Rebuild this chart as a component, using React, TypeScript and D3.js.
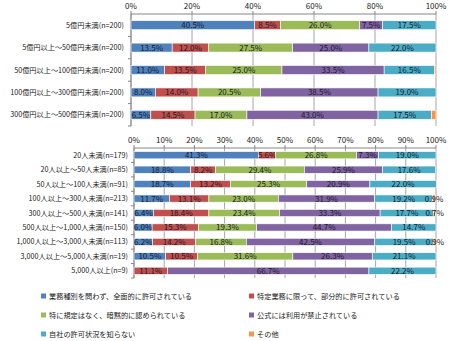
import React from "react";
import * as d3 from "d3";

const seriesNames = [
  "業務種別を問わず、全面的に許可されている",
  "特定業務に限って、部分的に許可されている",
  "特に規定はなく、暗黙的に認められている",
  "公式には利用が禁止されている",
  "自社の許可状況を知らない",
  "その他",
];
const colors = ["#4F81BD", "#C0504D", "#9BBB59", "#8064A2", "#4BACC6", "#F79646"];

const topCategories = [
  "5億円未満(n=200)",
  "5億円以上～50億円未満(n=200)",
  "50億円以上～100億円未満(n=200)",
  "100億円以上～300億円未満(n=200)",
  "300億円以上～500億円未満(n=200)",
];
const topValues = [
  [40.5, 8.5, 26.0, 7.5, 17.5, 0],
  [13.5, 12.0, 27.5, 25.0, 22.0, 0],
  [11.0, 13.5, 25.0, 33.5, 16.5, 0.5],
  [8.0, 14.0, 20.5, 38.5, 19.0, 0],
  [6.5, 14.5, 17.0, 43.0, 17.5, 1.5],
];
const topTicks = [0, 20, 40, 60, 80, 100];

const bottomCategories = [
  "20人未満(n=179)",
  "20人以上～50人未満(n=85)",
  "50人以上～100人未満(n=91)",
  "100人以上～300人未満(n=213)",
  "300人以上～500人未満(n=141)",
  "500人以上～1,000人未満(n=150)",
  "1,000人以上～3,000人未満(n=113)",
  "3,000人以上～5,000人未満(n=19)",
  "5,000人以上(n=9)",
];
const bottomValues = [
  [41.3, 5.6, 26.8, 7.3, 19.0, 0],
  [18.8, 8.2, 29.4, 25.9, 17.6, 0],
  [18.7, 13.2, 25.3, 20.9, 22.0, 0],
  [11.7, 13.1, 23.0, 31.9, 19.2, 0.9],
  [6.4, 18.4, 23.4, 33.3, 17.7, 0.7],
  [6.0, 15.3, 19.3, 44.7, 14.7, 0],
  [6.2, 14.2, 16.8, 42.5, 19.5, 0.9],
  [10.5, 10.5, 31.6, 26.3, 21.1, 0],
  [0, 11.1, 0, 66.7, 22.2, 0],
];
const bottomTicks = [0, 10, 20, 30, 40, 50, 60, 70, 80, 90, 100];

const FONT = "'Noto Sans CJK JP', 'Noto Sans', sans-serif";

type PanelProps = {
  categories: string[];
  values: number[][];
  ticks: number[];
  x0: number;
  x1: number;
  y0: number;
  y1: number;
  barPad: number;
  labelMin: number;
  labelGap: number;
};

function Panel({ categories, values, ticks, x0, x1, y0, y1, barPad, labelMin, labelGap }: PanelProps) {
  const x = d3.scaleLinear().domain([0, 100]).range([x0, x1]);
  const y = d3.scaleBand<string>().domain(categories).range([y0, y1]).paddingInner(barPad).paddingOuter(barPad / 2);
  const step = y.step();
  return (
    <g>
      {ticks.map((t) => (
        <g key={t}>
          <line x1={x(t)} x2={x(t)} y1={y0} y2={y1} stroke="#a6a6a6" strokeWidth={1} />
          <line x1={x(t)} x2={x(t)} y1={y0 - 3} y2={y0} stroke="#868686" strokeWidth={1} />
          <text x={x(t)} y={y0 - 5} textAnchor="middle" fontSize={8} fontFamily={FONT} fill="#222">
            {t}%
          </text>
        </g>
      ))}
      <line x1={x0} x2={x1} y1={y0} y2={y0} stroke="#868686" strokeWidth={1} />
      <line x1={x0} x2={x0} y1={y0} y2={y1} stroke="#868686" strokeWidth={1} />
      {categories.map((c, i) => (
        <line key={"t" + i} x1={x0 - 3} x2={x0} y1={y0 + step * (i + 1)} y2={y0 + step * (i + 1)} stroke="#868686" />
      ))}
      {categories.map((c, i) => {
        const row = values[i];
        let acc = 0;
        const yy = y(c) as number;
        const bh = y.bandwidth();
        return (
          <g key={c}>
            <text x={x0 - labelGap} y={yy + bh / 2 + 2.6} textAnchor="end" fontSize={7.2} fontFamily={FONT} fill="#222">
              {c}
            </text>
            {row.map((v, j) => {
              const s = acc;
              acc += v;
              if (v <= 0) return null;
              return (
                <g key={j}>
                  <rect x={x(s)} y={yy} width={x(s + v) - x(s)} height={bh} fill={colors[j]} stroke="#fff" strokeWidth={0.6} />
                  {v >= labelMin && (
                    <text x={(x(s) + x(s + v)) / 2} y={yy + bh / 2 + 3} textAnchor="middle" fontSize={8} fontFamily={FONT} fill="#1a1a2a">
                      {v.toFixed(1)}%
                    </text>
                  )}
                </g>
              );
            })}
          </g>
        );
      })}
    </g>
  );
}

export default function App() {
  const legendPos = [
    [41, 296],
    [249, 296],
    [41, 315],
    [249, 315],
    [41, 334],
    [249, 334],
  ];
  return (
    <svg width={450} height={341} style={{ position: "absolute", left: 0, top: 0, background: "#fff" }}>
      <Panel categories={topCategories} values={topValues} ticks={topTicks} x0={131} x1={436} y0={14} y1={126} barPad={0.6} labelMin={2} labelGap={7} />
      <Panel categories={bottomCategories} values={bottomValues} ticks={bottomTicks} x0={134} x1={436} y0={148} y1={278} barPad={0.5} labelMin={0.6} labelGap={6} />
      {seriesNames.map((n, i) => (
        <g key={n}>
          <rect x={legendPos[i][0]} y={legendPos[i][1] - 2.5} width={5} height={5} fill={colors[i]} />
          <text x={legendPos[i][0] + 8} y={legendPos[i][1] + 2.6} fontSize={7.2} fontFamily={FONT} fill="#222">
            {n}
          </text>
        </g>
      ))}
    </svg>
  );
}
